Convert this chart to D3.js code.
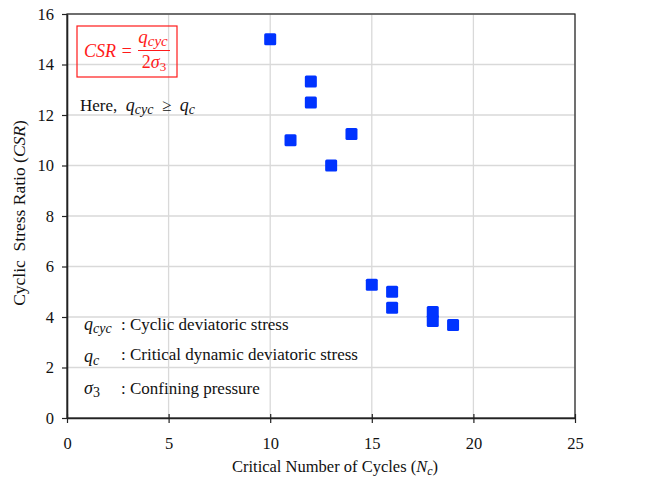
<!DOCTYPE html>
<html>
<head>
<meta charset="utf-8">
<script src="https://cdn.jsdelivr.net/npm/d3@7"></script>
<style>
body { margin: 0; background: #fff; }
text { font-family: "Liberation Serif", serif; white-space: pre; }
</style>
</head>
<body>
<div class="content"></div>
<script>
var cycles = [10, 12, 12, 11, 14, 13, 15, 16, 16, 18, 18, 19];
var csr = [15, 13.33, 12.5, 11, 11.25, 10, 5.28, 5.0, 4.37, 4.2, 3.84, 3.68];
var xTicks = [0, 5, 10, 15, 20, 25];
var yTicks = [0, 2, 4, 6, 8, 10, 12, 14, 16];
var legendSymbols = [["q", "cyc"], ["q", "c"], ["σ", "3"]];
var legendTexts = ["Cyclic deviatoric stress", "Critical dynamic deviatoric stress", "Confining pressure"];

var chart = {
    width: 656,
    height: 481,
    margin: {top: 14, right: 81, bottom: 63, left: 67},
    markColor: '#0033ff',
    gridColor: '#d9d9d9'
};
chart.innerW = chart.width - chart.margin.left - chart.margin.right;
chart.innerH = chart.height - chart.margin.top - chart.margin.bottom;

var svg = d3.select('.content').append('svg')
    .attr('width', chart.width)
    .attr('height', chart.height);
var g = svg.append('g')
    .attr('transform', 'translate(' + chart.margin.left + ',' + chart.margin.top + ')');

var x = d3.scaleLinear().domain([0, 25]).range([0, chart.innerW]);
var y = d3.scaleLinear().domain([0, 16]).range([chart.innerH, 0]);

// grid
g.selectAll('.gx').data(xTicks.slice(1)).enter().append('line')
    .attr('x1', d => x(d)).attr('x2', d => x(d))
    .attr('y1', 0).attr('y2', chart.innerH)
    .style('stroke', chart.gridColor).style('stroke-width', 1.3);
g.selectAll('.gy').data(yTicks.slice(1)).enter().append('line')
    .attr('y1', d => y(d)).attr('y2', d => y(d))
    .attr('x1', 0).attr('x2', chart.innerW)
    .style('stroke', chart.gridColor).style('stroke-width', 1.3);

// frame
g.append('rect').attr('width', chart.innerW).attr('height', chart.innerH)
    .style('fill', 'none').style('stroke', '#222').style('stroke-width', 1.2);

// axes
var xAxis = g.append('g').attr('transform', 'translate(0,' + chart.innerH + ')')
    .call(d3.axisBottom(x).tickValues(xTicks).tickSize(5).tickSizeOuter(0));
xAxis.selectAll('.tick line').attr('y1', -4);
xAxis.selectAll('text').attr('y', 19);
var yAxis = g.append('g')
    .call(d3.axisLeft(y).tickValues(yTicks).tickSize(5).tickSizeOuter(0));
yAxis.selectAll('text').attr('x', -13);
[xAxis, yAxis].forEach(function(a) {
    a.select('.domain').style('stroke', '#222').style('stroke-width', 1.6);
    a.selectAll('.tick line').style('stroke', '#222').style('stroke-width', 1.2);
    a.selectAll('text').style('font-size', '16.5px').style('fill', '#111')
        .style('font-family', '"Liberation Serif", serif');
});

// points
var s = 12;
g.selectAll('.pt').data(cycles).enter().append('rect')
    .attr('x', (d, i) => x(d) - s / 2)
    .attr('y', (d, i) => y(csr[i]) - s / 2)
    .attr('width', s).attr('height', s)
    .attr('rx', 1.5)
    .style('fill', chart.markColor);

// axis titles
var xt = svg.append('text')
    .attr('x', 335).attr('y', 472)
    .attr('text-anchor', 'middle').style('font-size', '16.5px').style('fill', '#111');
xt.append('tspan').text('Critical Number of Cycles (');
xt.append('tspan').text('N').style('font-style', 'italic');
xt.append('tspan').text('c').style('font-style', 'italic').style('font-size', '12px').attr('dy', 3);
xt.append('tspan').text(')').attr('dy', -3);

var yt = svg.append('text')
    .attr('transform', 'translate(25,' + 213 + ') rotate(-90)')
    .attr('text-anchor', 'middle').style('font-size', '17.5px').style('fill', '#111');
yt.append('tspan').text('Cyclic  Stress Ratio (');
yt.append('tspan').text('CSR').style('font-style', 'italic');
yt.append('tspan').text(')');

// formula box
var red = '#ff1a1a';
svg.append('rect').attr('x', 77).attr('y', 26).attr('width', 100).attr('height', 51)
    .style('fill', 'none').style('stroke', red).style('stroke-width', 1.2);
svg.append('text').attr('x', 84).attr('y', 57).text('CSR =')
    .style('font-style', 'italic').style('font-size', '18px').style('fill', red);
var num = svg.append('text').attr('x', 153).attr('y', 43).attr('text-anchor', 'middle')
    .style('font-style', 'italic').style('font-size', '19px').style('fill', red);
num.append('tspan').text('q');
num.append('tspan').text('cyc').style('font-size', '15px').attr('dy', 3);
svg.append('line').attr('x1', 138).attr('x2', 170).attr('y1', 50.5).attr('y2', 50.5)
    .style('stroke', red).style('stroke-width', 1);
var den = svg.append('text').attr('x', 154).attr('y', 68).attr('text-anchor', 'middle')
    .style('font-size', '18px').style('fill', red);
den.append('tspan').text('2');
den.append('tspan').text('σ').style('font-style', 'italic');
den.append('tspan').text('3').style('font-size', '13px').attr('dy', 3);

// "Here" note
var here = svg.append('text').attr('x', 80).attr('y', 111)
    .style('font-size', '17px').style('fill', '#111');
here.append('tspan').text('Here,  ');
here.append('tspan').text('q').style('font-style', 'italic').style('font-size', '18px');
here.append('tspan').text('cyc').style('font-style', 'italic').style('font-size', '14px').attr('dy', 3);
here.append('tspan').text('  ≥  ').attr('dy', -3);
here.append('tspan').text('q').style('font-style', 'italic').style('font-size', '18px');
here.append('tspan').text('c').style('font-style', 'italic').style('font-size', '14px').attr('dy', 3);

// symbol legend
var legendY = [330, 362, 394];
legendSymbols.forEach(function(sym, i) {
    var t = svg.append('text').attr('x', 84).attr('y', legendY[i])
        .style('font-size', '18px').style('fill', '#111');
    t.append('tspan').text(sym[0]).style('font-style', 'italic');
    t.append('tspan').text(sym[1]).style('font-style', sym[1] === '3' ? 'normal' : 'italic')
        .style('font-size', '14px').attr('dy', 3);
    svg.append('text').attr('x', 121).attr('y', legendY[i] - (i === 1 ? 2 : 0))
        .text(': ' + legendTexts[i])
        .style('font-size', '17px').style('fill', '#111');
});
</script>
</body>
</html>
